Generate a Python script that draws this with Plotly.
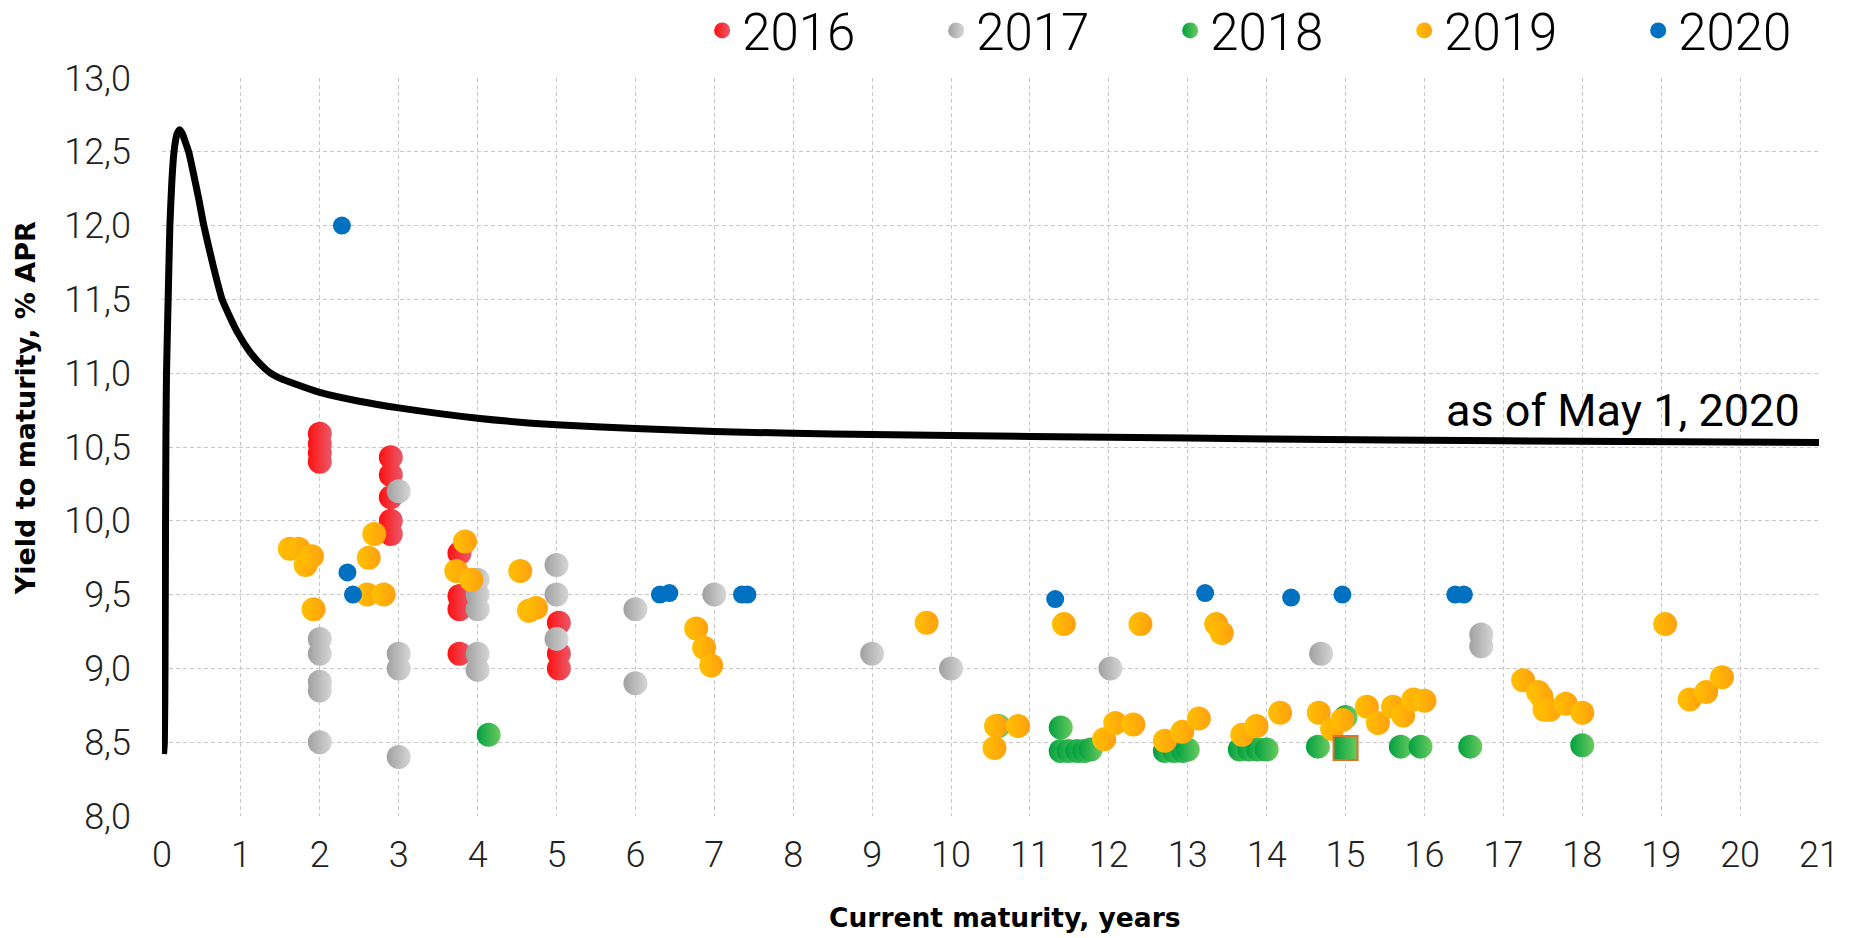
import plotly.graph_objects as go

# ---- Yield curve (as of May 1, 2020) ----
curve_x = [0.02, 0.03, 0.038, 0.045, 0.05, 0.057, 0.078, 0.10, 0.125, 0.152, 0.19, 0.224,
           0.26, 0.30, 0.338, 0.40, 0.466, 0.53, 0.648, 0.762, 0.953, 1.12, 1.25, 1.376,
           1.5, 1.67, 2.0, 2.5, 3, 4, 5, 6, 7, 8, 9, 10, 12, 14, 17, 21]
curve_y = [8.42, 8.5, 9.0, 10.0, 10.6, 11.0, 11.5, 12.0, 12.3, 12.5, 12.62, 12.65,
           12.62, 12.56, 12.5, 12.35, 12.18, 12.0, 11.73, 11.5, 11.28, 11.14, 11.06, 11.0,
           10.965, 10.93, 10.87, 10.81, 10.765, 10.695, 10.65, 10.625, 10.605, 10.593,
           10.585, 10.578, 10.566, 10.555, 10.542, 10.53]

# ---- Bond issues by year of placement ----
x2016 = [2, 2, 2, 2, 2.9, 2.9, 2.9, 2.9, 2.9, 3.77, 3.77, 3.77, 3.77, 5.03, 5.03, 5.03]
y2016 = [10.59, 10.52, 10.46, 10.40, 10.43, 10.31, 10.16, 10.0, 9.91, 9.78, 9.49, 9.40,
         9.10, 9.31, 9.10, 9.0]

x2017 = [2, 2, 2, 2, 2, 3, 3, 3, 3, 4, 4, 4, 4, 4, 5, 5, 5, 6, 6, 7, 9, 10, 12.02,
         14.69, 16.72, 16.72]
y2017 = [9.2, 9.10, 8.91, 8.85, 8.5, 10.2, 9.1, 9.0, 8.40, 9.6, 9.5, 9.40, 9.1, 8.99,
         9.70, 9.5, 9.2, 9.40, 8.90, 9.5, 9.10, 9.0, 9.0, 9.10, 9.23, 9.15]

x2018 = [4.14, 10.6, 11.39, 11.39, 11.49, 11.60, 11.69, 11.77, 12.71, 12.83, 12.94, 13.0,
         13.66, 13.78, 13.89, 14.0, 14.65, 15.0, 15.70, 15.95, 16.58, 18.0]
y2018 = [8.55, 8.61, 8.60, 8.44, 8.44, 8.44, 8.44, 8.45, 8.44, 8.44, 8.44, 8.45,
         8.45, 8.45, 8.45, 8.45, 8.47, 8.67, 8.47, 8.47, 8.47, 8.48]

x2018_sq = [15.0]
y2018_sq = [8.46]

x2019 = [1.62, 1.73, 1.82, 1.9, 1.92, 2.60, 2.81, 2.62, 2.69, 3.73, 3.84, 3.92, 4.54,
         4.65, 4.74, 6.77, 6.87, 6.96, 9.69, 11.43, 12.40, 13.36, 13.43, 19.05,
         10.57, 10.85, 10.55, 11.94, 12.08, 12.31, 12.71, 12.93, 13.14, 13.69, 13.87,
         14.17, 14.66, 14.83, 14.96, 15.27, 15.41, 15.60, 15.73, 15.86, 16.0,
         17.25, 17.44, 17.48, 17.52, 17.59, 17.79, 18.0, 19.36, 19.57, 19.77]
y2019 = [9.81, 9.81, 9.70, 9.76, 9.40, 9.5, 9.5, 9.75, 9.91, 9.66, 9.86, 9.6, 9.66,
         9.39, 9.41, 9.27, 9.14, 9.02, 9.31, 9.30, 9.30, 9.30, 9.24, 9.30,
         8.61, 8.61, 8.46, 8.52, 8.63, 8.62, 8.51, 8.57, 8.66, 8.55, 8.61,
         8.70, 8.70, 8.59, 8.65, 8.74, 8.63, 8.74, 8.68, 8.79, 8.78,
         8.92, 8.84, 8.81, 8.72, 8.72, 8.76, 8.70, 8.79, 8.84, 8.94]

x2020 = [2.28, 2.35, 2.42, 6.31, 6.43, 7.35, 7.42, 11.32, 13.22, 14.31, 14.96, 16.39, 16.5]
y2020 = [12.0, 9.65, 9.5, 9.5, 9.51, 9.5, 9.5, 9.47, 9.51, 9.48, 9.5, 9.5, 9.5]

x_ticks = list(range(0, 22))
y_ticks = [8.0, 8.5, 9.0, 9.5, 10.0, 10.5, 11.0, 11.5, 12.0, 12.5, 13.0]

label_curve = "as of May 1, 2020"

TICK_FONT = dict(family="Roboto, Open Sans, sans-serif", size=36, color="#222222", weight=300)

fig = go.Figure()

fig.add_trace(go.Scatter(x=curve_x, y=curve_y, mode="lines",
                         line=dict(color="black", width=7, shape="spline", smoothing=0.5),
                         showlegend=False, hoverinfo="skip"))

series = [
    ("2016", x2016, y2016, "#FF1010", "#E85A6A", 24),
    ("2017", x2017, y2017, "#A0A0A0", "#D6D6D6", 24),
    ("2018", x2018, y2018, "#00A040", "#6CCB5F", 24),
    ("2019", x2019, y2019, "#FFC000", "#FFA010", 24),
    ("2020", x2020, y2020, "#0070C0", "#0070C0", 18),
]
for name, xs, ys, col, gcol, size in series:
    fig.add_trace(go.Scatter(
        x=xs, y=ys, mode="markers", name=name,
        marker=dict(size=size, color=col, line=dict(width=0),
                    gradient=dict(type="horizontal", color=gcol)),
    ))
    if name == "2019":
        fig.add_trace(go.Scatter(
            x=x2018_sq, y=y2018_sq, mode="markers", showlegend=False,
            marker=dict(size=24, symbol="square", color="#00A040",
                        gradient=dict(type="horizontal", color="#6CCB5F"),
                        line=dict(width=2, color="#E0702A")),
        ))

grid = dict(showgrid=True, gridcolor="#C8C8C8", gridwidth=1.2, griddash="4px,3px",
            zeroline=False, showline=False)

fig.update_xaxes(range=[0, 21], tickvals=x_ticks, tickfont=TICK_FONT,
                 ticks="", ticklabelstandoff=14, **grid)
fig.update_yaxes(range=[8, 13], tickvals=y_ticks, tickformat=".1f", tickfont=TICK_FONT,
                 ticks="", ticklabelstandoff=30, **grid)

fig.add_annotation(xref="paper", yref="y", x=1, y=10.75, xshift=-17, text=label_curve,
                   showarrow=False, xanchor="right", yanchor="middle",
                   font=dict(family="Roboto, sans-serif", size=45, color="black"))
fig.add_annotation(xref="paper", yref="paper", x=-0.0823, y=0.552,
                   text="<b>Yield to maturity, % APR</b>", textangle=-90, showarrow=False,
                   xanchor="center", yanchor="middle",
                   font=dict(family="DejaVu Sans, sans-serif", size=27, color="black"))
fig.add_annotation(xref="paper", yref="paper", x=0.5086, y=-0.1376,
                   text="<b>Current maturity, years</b>", showarrow=False,
                   xanchor="center", yanchor="middle",
                   font=dict(family="DejaVu Sans, sans-serif", size=26.5, color="black"))

fig.update_layout(
    width=1858, height=938,
    margin=dict(l=162, r=39, t=78, b=122, autoexpand=False),
    paper_bgcolor="white", plot_bgcolor="white",
    separators=", ",
    legend=dict(orientation="h", x=0.326, y=1.064, xanchor="left", yanchor="middle",
                font=dict(family="Roboto, sans-serif", size=51, color="black", weight=300),
                entrywidth=189, entrywidthmode="pixels", itemsizing="trace",
                bgcolor="rgba(0,0,0,0)"),
    hovermode=False,
)

fig.write_html("out.html", config=dict(displayModeBar=False),
               post_script="document.body.style.margin='0';document.body.style.overflow='hidden';")
